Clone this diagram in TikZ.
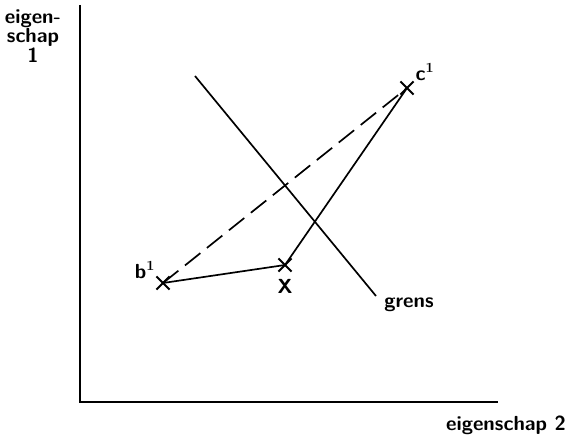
\documentclass[tikz,border=0pt]{standalone}
\usetikzlibrary{shapes.misc}

\begin{document}
\begin{tikzpicture}[
    x=0.025cm, y=-0.025cm,
    font=\sffamily\bfseries\fontsize{14.5}{14}\selectfont,
    cross/.style={
        cross out,
        draw,
        line width=1.4pt,
        minimum size=0.28cm,
        inner sep=0pt
    },
    line/.style={line width=1.2pt}
]
\useasboundingbox (0,0) rectangle (567,439);

\coordinate (origin) at (80,402);
\coordinate (ytop) at (80,5);
\coordinate (xend) at (498,402);
\draw[line] (ytop) -- (origin) -- (xend);

\node[align=center, inner sep=0pt] (ylabel) at (33,36) {eigen-\\schap\\1};
\node[inner sep=0pt] (xlabel) at (506,425) {eigenschap 2};

\node[cross] (b1) at (163,283) {};
\node[cross] (mid) at (285,265) {};
\node[cross] (c1) at (407,88) {};
\node[inner sep=0pt] (extra) at (285,286) {X};

\node[inner sep=0pt] (b1label) at (145,270) {b$^{\mathbf{1}}$};
\node[inner sep=0pt] (c1label) at (425,72) {c$^{\mathbf{1}}$};

\draw[line] (b1.center) -- (mid.center) -- (c1.center);
\draw[line, dashed, dash pattern=on 14pt off 6pt] (b1.center) -- (c1.center);

\coordinate (g1) at (195,76);
\coordinate (g2) at (376,296);
\draw[line] (g1) -- (g2);
\node[inner sep=0pt] (grens) at (409,305) {grens};

\end{tikzpicture}
\end{document}
